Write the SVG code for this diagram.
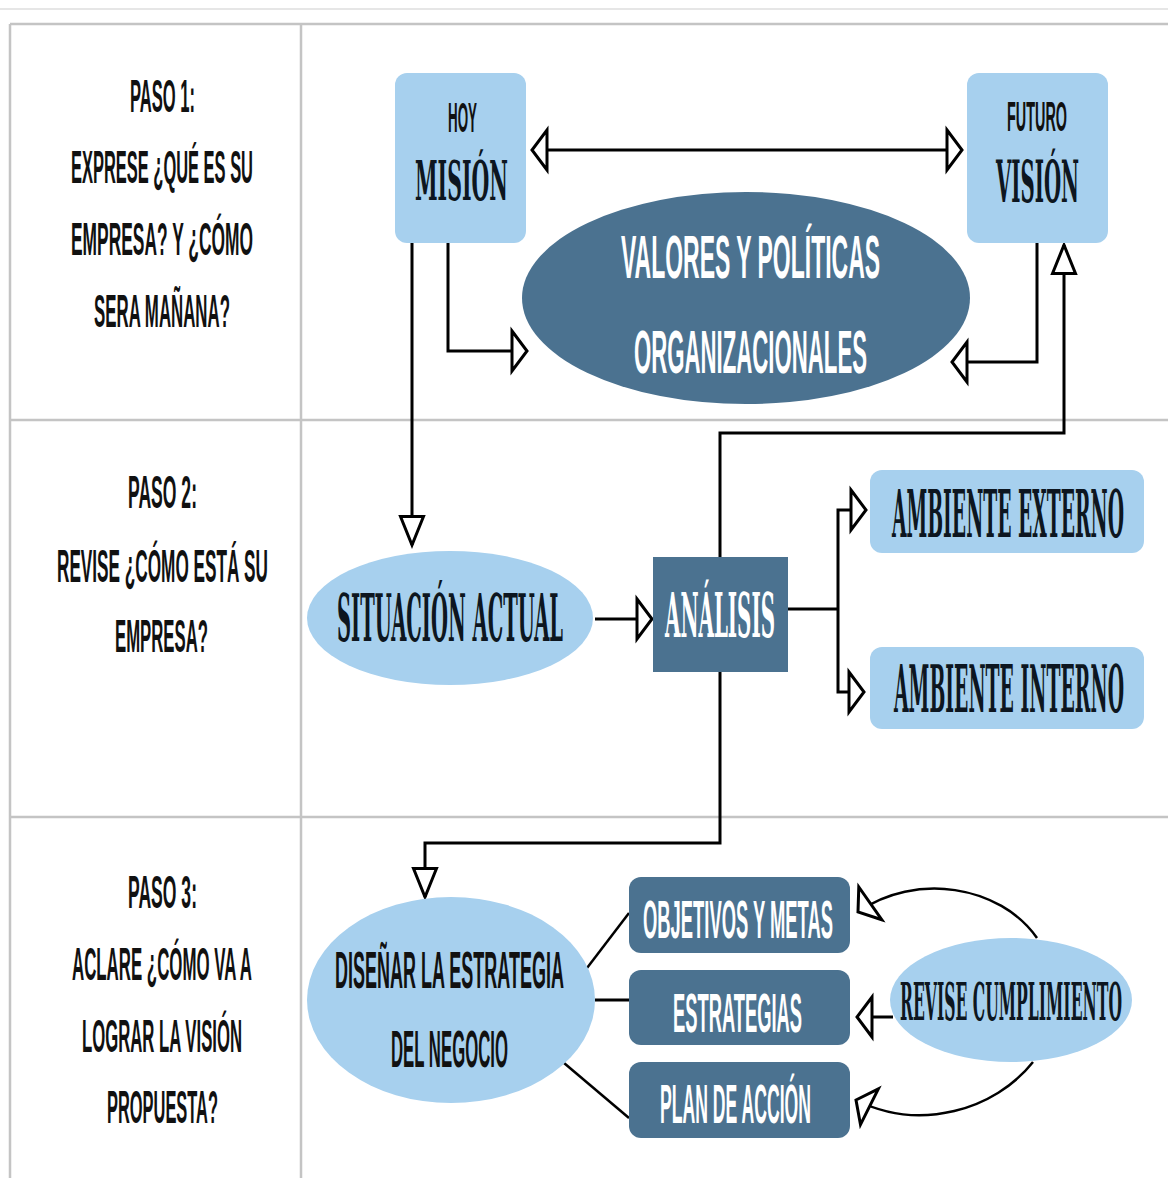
<svg xmlns="http://www.w3.org/2000/svg" width="1168" height="1178" viewBox="0 0 1168 1178">
<style>
.grid{stroke:#c4c4c4;stroke-width:2.5;fill:none}
.faint{stroke:#e6e6e6;stroke-width:2;fill:none}
.light{fill:#a7d0ee}
.dark{fill:#4b7290}
.t{font-family:"Liberation Sans",Arial,sans-serif;font-weight:700;fill:#111}
.s{font-family:"DejaVu Serif","Liberation Serif",serif;font-weight:700;fill:#0d1620}
.w{fill:#ffffff}
.c{stroke:#000;stroke-width:3;fill:none}
.c2{stroke:#000;stroke-width:2.5;fill:none}
</style>
<defs>
<marker id="mh" markerUnits="userSpaceOnUse" viewBox="0 0 18 44" markerWidth="18" markerHeight="44" refX="16.5" refY="22" orient="auto-start-reverse" overflow="visible">
<path d="M1.5,2 L16.5,22 L1.5,42 Z" fill="#fff" stroke="#000" stroke-width="3"/>
</marker>
<marker id="mv" markerUnits="userSpaceOnUse" viewBox="0 0 32 26" markerWidth="32" markerHeight="26" refX="30" refY="13" orient="auto" overflow="visible">
<path d="M1.5,1.5 L30,13 L1.5,24.5 Z" fill="#fff" stroke="#000" stroke-width="3"/>
</marker>
</defs>
<rect x="0" y="0" width="1168" height="1178" fill="#fff"/>
<g id="table">
<line class="faint" x1="0" y1="9" x2="1168" y2="9"/>
<line class="grid" x1="10" y1="24" x2="1168" y2="24"/>
<line class="grid" x1="10" y1="24" x2="10" y2="1178"/>
<line class="grid" x1="301" y1="24" x2="301" y2="1178"/>
<line class="grid" x1="10" y1="420" x2="1168" y2="420"/>
<line class="grid" x1="10" y1="817" x2="1168" y2="817"/>
</g>
<g id="paso1">
<text class="t" font-size="46" transform="translate(130,112) scale(0.3533,1)" textLength="184" lengthAdjust="spacingAndGlyphs">PASO 1:</text>
<text class="t" font-size="46" transform="translate(71,183) scale(0.3578,1)" textLength="508.7" lengthAdjust="spacingAndGlyphs">EXPRESE ¿QUÉ ES SU</text>
<text class="t" font-size="46" transform="translate(71,255) scale(0.3768,1)" textLength="483" lengthAdjust="spacingAndGlyphs">EMPRESA? Y ¿CÓMO</text>
<text class="t" font-size="46" transform="translate(94,327) scale(0.3645,1)" textLength="373.1" lengthAdjust="spacingAndGlyphs">SERA MAÑANA?</text>
</g>
<g id="paso2">
<text class="t" font-size="46" transform="translate(128,508) scale(0.375,1)" textLength="184" lengthAdjust="spacingAndGlyphs">PASO 2:</text>
<text class="t" font-size="46" transform="translate(57,582) scale(0.3735,1)" textLength="564.9" lengthAdjust="spacingAndGlyphs">REVISE ¿CÓMO ESTÁ SU</text>
<text class="t" font-size="46" transform="translate(115,652) scale(0.3638,1)" textLength="255.6" lengthAdjust="spacingAndGlyphs">EMPRESA?</text>
</g>
<g id="paso3">
<text class="t" font-size="46" transform="translate(128,908) scale(0.375,1)" textLength="184" lengthAdjust="spacingAndGlyphs">PASO 3:</text>
<text class="t" font-size="46" transform="translate(72,980) scale(0.3612,1)" textLength="498.3" lengthAdjust="spacingAndGlyphs">ACLARE ¿CÓMO VA A</text>
<text class="t" font-size="46" transform="translate(82,1052) scale(0.3618,1)" textLength="442.2" lengthAdjust="spacingAndGlyphs">LOGRAR LA VISIÓN</text>
<text class="t" font-size="46" transform="translate(107,1123) scale(0.3531,1)" textLength="314.4" lengthAdjust="spacingAndGlyphs">PROPUESTA?</text>
</g>
<g id="connectors">
<path class="c" d="M532,150 H962" marker-start="url(#mh)" marker-end="url(#mh)"/>
<path class="c" d="M448,243 V351 H527" marker-end="url(#mh)"/>
<path class="c" d="M412,243 V545" marker-end="url(#mv)"/>
<path class="c" d="M1037,243 V362 H952" marker-end="url(#mh)"/>
<path class="c" d="M720,557 V433 H1064 V245" marker-end="url(#mv)"/>
<path class="c" d="M595,619 H652" marker-end="url(#mh)"/>
<path class="c" d="M788,609 H838"/>
<path class="c" d="M838,609 V510 H866" marker-end="url(#mh)"/>
<path class="c" d="M838,609 V692 H864" marker-end="url(#mh)"/>
<path class="c" d="M720,672 V843 H425 V897" marker-end="url(#mv)"/>
<path class="c2" d="M587,968 L629,913"/>
<path class="c" d="M595,1000 H629"/>
<path class="c2" d="M564,1063 L629,1118"/>
<path class="c2" d="M1037,938 C1000,885 915,872 858,912" marker-end="url(#mh)"/>
<path class="c" d="M893,1017 H857" marker-end="url(#mh)"/>
<path class="c2" d="M1033,1062 C995,1110 920,1132 856,1100" marker-end="url(#mh)"/>
</g>
<g id="hoy-mision">
<rect class="light" x="395" y="73" width="131" height="170" rx="12"/>
<text class="t" font-size="42" transform="translate(448,132) scale(0.3187,1)" textLength="91" lengthAdjust="spacingAndGlyphs">HOY</text>
<text class="s" font-size="55" transform="translate(415,200) scale(0.3796,1)" textLength="245" lengthAdjust="spacingAndGlyphs">MISIÓN</text>
</g>
<g id="futuro-vision">
<rect class="light" x="967" y="73" width="141" height="170" rx="12"/>
<text class="t" font-size="42" transform="translate(1007,131) scale(0.3429,1)" textLength="175" lengthAdjust="spacingAndGlyphs">FUTURO</text>
<text class="s" font-size="57" transform="translate(996,202) scale(0.3517,1)" textLength="236" lengthAdjust="spacingAndGlyphs">VISIÓN</text>
</g>
<g id="valores">
<ellipse class="dark" cx="746" cy="298" rx="224" ry="106"/>
<text class="t w" font-size="62" transform="translate(621,278) scale(0.3668,1)" textLength="706.2" lengthAdjust="spacingAndGlyphs">VALORES Y POLÍTICAS</text>
<text class="t w" font-size="62" transform="translate(634,373) scale(0.3579,1)" textLength="651" lengthAdjust="spacingAndGlyphs">ORGANIZACIONALES</text>
</g>
<g id="situacion">
<ellipse class="light" cx="450" cy="618" rx="143" ry="67"/>
<text class="s" font-size="66" transform="translate(337,641) scale(0.3023,1)" textLength="747.7" lengthAdjust="spacingAndGlyphs">SITUACIÓN ACTUAL</text>
</g>
<g id="analisis">
<rect class="dark" x="653" y="557" width="135" height="115"/>
<text class="s w" font-size="62" transform="translate(665,637) scale(0.3249,1)" textLength="338.6" lengthAdjust="spacingAndGlyphs">ANÁLISIS</text>
</g>
<g id="ambiente-externo">
<rect class="light" x="870" y="470" width="274" height="83" rx="12"/>
<text class="s" font-size="65" transform="translate(892,537) scale(0.299,1)" textLength="776" lengthAdjust="spacingAndGlyphs">AMBIENTE EXTERNO</text>
</g>
<g id="ambiente-interno">
<rect class="light" x="870" y="647" width="274" height="82" rx="12"/>
<text class="s" font-size="65" transform="translate(894,712) scale(0.2997,1)" textLength="767.5" lengthAdjust="spacingAndGlyphs">AMBIENTE INTERNO</text>
</g>
<g id="disenar">
<ellipse class="light" cx="451" cy="1000" rx="144" ry="103"/>
<text class="t" font-size="52" transform="translate(335,988) scale(0.3431,1)" textLength="667.4" lengthAdjust="spacingAndGlyphs">DISEÑAR LA ESTRATEGIA</text>
<text class="t" font-size="52" transform="translate(391,1067) scale(0.3213,1)" textLength="364.1" lengthAdjust="spacingAndGlyphs">DEL NEGOCIO</text>
</g>
<g id="objetivos">
<rect class="dark" x="629" y="877" width="221" height="76" rx="12"/>
<text class="t w" font-size="53" transform="translate(643,938) scale(0.3431,1)" textLength="553.7" lengthAdjust="spacingAndGlyphs">OBJETIVOS Y METAS</text>
</g>
<g id="estrategias">
<rect class="dark" x="629" y="970" width="221" height="75" rx="12"/>
<text class="t w" font-size="55" transform="translate(673,1032) scale(0.3298,1)" textLength="391.2" lengthAdjust="spacingAndGlyphs">ESTRATEGIAS</text>
</g>
<g id="plan">
<rect class="dark" x="629" y="1062" width="221" height="76" rx="12"/>
<text class="t w" font-size="55" transform="translate(660,1123) scale(0.3188,1)" textLength="473.6" lengthAdjust="spacingAndGlyphs">PLAN DE ACCIÓN</text>
</g>
<g id="revise">
<ellipse class="light" cx="1011" cy="1000" rx="121" ry="62"/>
<text class="s" font-size="52" transform="translate(900,1020) scale(0.3096,1)" textLength="717" lengthAdjust="spacingAndGlyphs">REVISE CUMPLIMIENTO</text>
</g>
</svg>
